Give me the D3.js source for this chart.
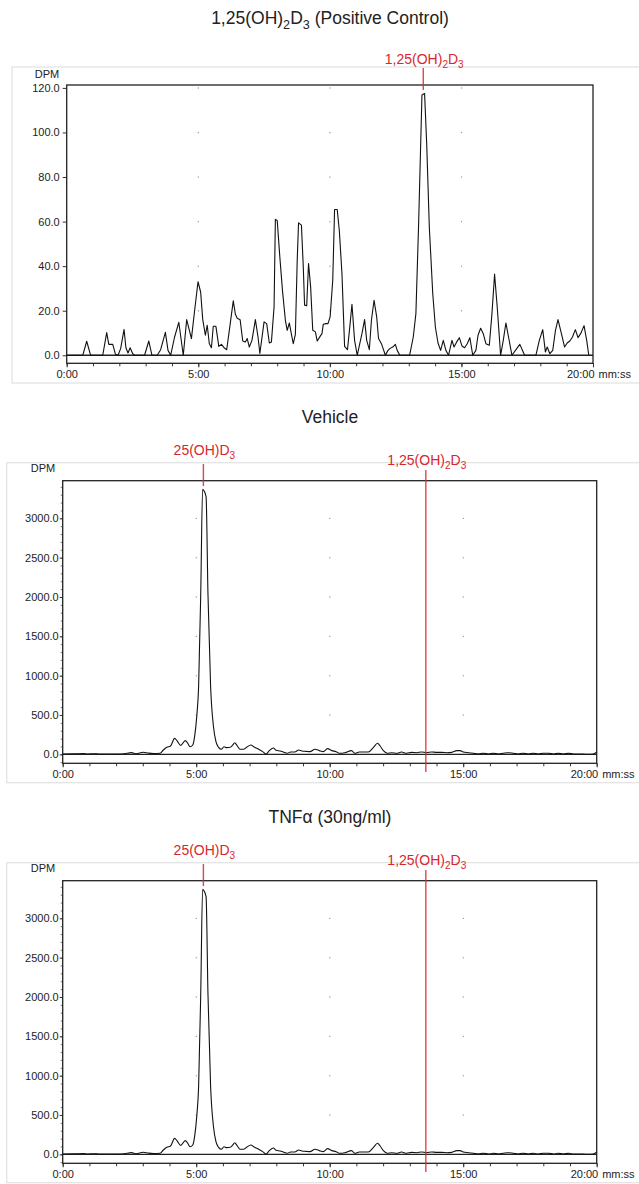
<!DOCTYPE html>
<html><head><meta charset="utf-8">
<script src="https://cdn.jsdelivr.net/npm/d3@7"></script>
<style>body{margin:0;background:#fff}svg{display:block;font-family:"Liberation Sans",Arial,sans-serif}</style>
</head><body><svg id="c" width="639" height="1184"></svg>
<script>
// ---------- data ----------
const pcTime=[0,0.61,0.76,0.91,1.37,1.52,1.6,1.75,1.85,1.95,2.05,2.18,2.25,2.33,2.41,2.51,2.58,2.96,3.12,3.24,3.44,3.57,3.75,3.85,3.95,4.10,4.26,4.43,4.56,4.74,4.86,4.99,5.09,5.17,5.27,5.34,5.42,5.5,5.57,5.67,5.78,5.88,5.98,6.08,6.18,6.33,6.41,6.48,6.59,6.69,6.79,6.86,6.94,7.04,7.17,7.27,7.34,7.5,7.6,7.7,7.78,7.88,7.93,8.0,8.1,8.2,8.31,8.38,8.46,8.54,8.61,8.69,8.76,8.81,8.92,8.99,9.04,9.12,9.19,9.27,9.35,9.45,9.52,9.63,9.70,9.75,9.85,9.93,10.01,10.11,10.18,10.28,10.36,10.46,10.56,10.67,10.77,10.84,10.94,11.04,11.22,11.32,11.40,11.50,11.58,11.68,11.78,11.85,11.96,12.11,12.21,12.29,12.39,12.49,12.56,12.66,13.03,13.17,13.27,13.37,13.5,13.6,13.68,13.78,13.91,14.01,14.11,14.21,14.31,14.41,14.51,14.64,14.72,14.82,14.92,15.02,15.12,15.22,15.32,15.43,15.55,15.63,15.73,15.83,15.93,16.06,16.16,16.26,16.36,16.49,16.59,16.69,16.79,16.92,17.10,17.22,17.33,17.40,17.83,17.96,18.09,18.19,18.26,18.36,18.47,18.57,18.67,18.80,18.92,19.02,19.12,19.22,19.33,19.43,19.53,19.66,19.76,19.84];
const pcDpm=[0,0,6.3,0,0,10.2,4.9,4.9,0.5,0,3,11.6,3.4,1,3.4,0.7,0,0,6.4,0,0,2.5,10.3,2.2,0,8.2,14.8,0,16,7.5,20,33,28.4,16,9,13.5,5.2,3.4,13,13,4,4.9,3.4,2.5,11.2,24.4,18.4,16.6,16,6.4,6,7.5,3.7,6.7,16,8.2,0.8,15,14.2,5.5,6,21.7,61,60.5,44,29,15.7,11.2,14.5,9.4,5.2,9.4,42.7,59.4,58.4,39.7,22.5,22.2,41.2,30.7,11.2,10.5,6.4,8.5,9.7,13.9,14.2,14.2,17.2,33.7,65.4,65.4,56,36.7,4,2.5,14.2,22.9,6.7,0,9.7,16,6.7,2.5,15.7,24.7,17.2,7.5,5.2,0,2.2,3.1,3.7,4.9,2.2,0,0,8.2,18.7,57.6,116.8,117.5,95,57.6,27.7,12.7,5.5,2.2,6.7,2.2,0,6.7,3.7,6,7.9,4.2,3.4,5.2,7.9,0,2.2,9,12.1,9.7,5.2,4.5,18.7,36.4,21.7,0,6.7,14.5,8.2,0,3,4.9,1.9,0,0,6.7,11.5,1.5,3.7,0.7,2.2,10.9,16,9.7,3.7,5.5,6.4,8.2,11.5,7.9,9.7,13.3,6.7,0];

const vehTime=[0,0.4,0.78,0.95,1.15,1.4,1.7,2.0,2.3,2.58,2.75,3.02,3.2,3.4,3.65,3.77,3.9,4.04,4.19,4.29,4.42,4.59,4.67,4.77,4.87,4.94,5.02,5.09,5.17,5.24,5.29,5.37,5.44,5.54,5.64,5.74,5.84,5.94,6.04,6.14,6.27,6.37,6.44,6.54,6.64,6.77,6.89,7.04,7.19,7.34,7.49,7.62,7.74,7.89,7.99,8.14,8.26,8.41,8.54,8.69,8.84,8.96,9.11,9.26,9.45,9.61,9.76,9.92,10.08,10.24,10.36,10.57,10.82,10.94,11.11,11.26,11.45,11.64,11.79,11.89,12.01,12.16,12.32,12.51,12.69,12.88,13.07,13.26,13.44,13.63,13.82,14.01,14.2,14.39,14.57,14.76,14.88,15.0,15.19,15.38,15.57,15.76,15.95,16.13,16.32,16.5,16.69,16.88,17.06,17.25,17.44,17.63,17.81,18.0,18.19,18.38,18.56,18.75,18.95,19.13,19.31,19.5,19.69,19.87,20.0];
const vehDpm=[4,6,10,4,8,3,5,3,8,22,8,26,16,10,14,55,89,106,203,169,114,174,148,97,119,225,479,860,2046,3368,3351,3275,2046,860,373,161,89,64,97,85,89,119,148,106,64,64,89,119,89,64,34,3,47,80,51,42,30,13,30,30,55,42,38,34,64,47,34,72,47,34,13,21,47,13,30,30,30,89,140,106,47,13,21,13,30,13,25,21,30,21,30,25,25,21,25,47,47,30,21,13,4,13,4,13,4,13,21,13,4,13,4,13,4,13,13,4,13,4,13,4,4,4,0,4,30];

const tnfTime=[0,0.4,0.78,0.95,1.15,1.4,1.7,2.0,2.3,2.58,2.75,3.02,3.2,3.4,3.65,3.77,3.9,4.04,4.19,4.29,4.42,4.59,4.67,4.77,4.87,4.94,5.02,5.09,5.17,5.24,5.29,5.37,5.44,5.54,5.64,5.74,5.84,5.94,6.04,6.14,6.27,6.37,6.44,6.54,6.64,6.77,6.89,7.04,7.19,7.34,7.49,7.62,7.74,7.89,7.99,8.14,8.26,8.41,8.54,8.69,8.84,8.96,9.11,9.26,9.45,9.61,9.76,9.92,10.08,10.24,10.36,10.57,10.82,10.94,11.11,11.26,11.45,11.64,11.79,11.89,12.01,12.16,12.32,12.51,12.69,12.88,13.07,13.26,13.44,13.63,13.82,14.01,14.2,14.39,14.57,14.76,14.88,15.0,15.19,15.38,15.57,15.76,15.95,16.13,16.32,16.5,16.69,16.88,17.06,17.25,17.44,17.63,17.81,18.0,18.19,18.38,18.56,18.75,18.95,19.13,19.31,19.5,19.69,19.87,20.0];
const tnfDpm=[4,6,10,4,8,3,5,3,8,22,8,26,16,10,14,55,89,106,203,169,114,174,148,97,119,225,479,860,2046,3368,3351,3275,2046,860,373,161,89,64,97,85,89,119,148,106,64,64,89,119,89,64,34,3,47,80,51,42,30,13,30,30,55,42,38,34,64,47,34,72,47,34,13,21,47,13,30,30,30,89,140,106,47,13,21,13,30,13,25,21,30,21,30,25,25,21,25,47,47,30,21,13,4,13,4,13,4,13,21,13,4,13,4,13,4,13,13,4,13,4,13,4,4,4,0,4,30];

const timeTicks=[0,5,10,15,20];
const timeTickLabels=["0:00","5:00","10:00","15:00","20:00"];
const pcYTicks=[0,20,40,60,80,100,120];
const sampleYTicks=[0,500,1000,1500,2000,2500,3000];
const titles=[
  [["1,25(OH)",0],["2",1],["D",0],["3",1],[" (Positive Control)",0]],
  [["Vehicle",0]],
  [["TNF\u03b1 (30ng/ml)",0]]
];
const lbl125=[["1,25(OH)",0],["2",1],["D",0],["3",1]];
const lbl25=[["25(OH)D",0],["3",1]];
const pcMarkers=[{t:13.55,label:lbl125}];
const sampleMarkers=[{t:5.27,label:lbl25},{t:13.6,label:lbl125}];

// ---------- drawing ----------
const svg=d3.select("#c");
const red="#d9262c";
function richText(sel,parts,size){
  parts.forEach(([s,sub],i)=>{
    const prevSub=i>0&&parts[i-1][1];
    const ts=sel.append("tspan").text(s);
    if(sub){ts.attr("font-size",size*0.72).attr("dy",size*0.28);}
    else{ts.attr("font-size",size); if(prevSub) ts.attr("dy",-size*0.28);}
  });
}

const panels=[
 {time:pcTime,dpm:pcDpm,yTicks:pcYTicks,minor:null,yDom:[-3.6,121.3],L:66.7,R:593,T:85,B:363.3,
  border:{x:12,y:67,h:316},titleY:24,title:titles[0],markers:pcMarkers,curve:d3.curveLinear,dpmY:78,dpmX:47,
  labelYs:[64],lineSpan:[[68,90]],ySize:4,yPad:3},
 {time:vehTime,dpm:vehDpm,yTicks:sampleYTicks,minor:d3.range(-100,3401,100),yDom:[-114,3478],L:62.7,R:596.7,T:480.7,B:763.3,
  border:{x:6.7,y:462.7,h:320},titleY:423,title:titles[1],markers:sampleMarkers,curve:d3.curveMonotoneX,dpmY:472,dpmX:43,
  labelYs:[455,465],lineSpan:[[464,486],[470,772]],ySize:3,yPad:1},
 {time:tnfTime,dpm:tnfDpm,yTicks:sampleYTicks,minor:d3.range(-100,3401,100),yDom:[-114,3478],L:62.7,R:596.7,T:880.7,B:1163.3,
  border:{x:6.7,y:862.7,h:320},titleY:823,title:titles[2],markers:sampleMarkers,curve:d3.curveMonotoneX,dpmY:872,dpmX:43,
  labelYs:[855,865],lineSpan:[[864,886],[870,1172]],ySize:3,yPad:1}
];

panels.forEach(p=>{
  const g=svg.append("g");
  const x=d3.scaleLinear().domain([0,20]).range([p.L,p.R]);
  const y=d3.scaleLinear().domain(p.yDom).range([p.B,p.T]);
  // outer border
  g.append("rect").attr("x",p.border.x).attr("y",p.border.y).attr("width",700).attr("height",p.border.h)
    .attr("fill","none").attr("stroke","#e2e2e2").attr("stroke-width",1.2);
  // title
  const tt=g.append("text").attr("x",330).attr("y",p.titleY).attr("text-anchor","middle").attr("fill","#222");
  richText(tt,p.title,17.5);
  // grid dots
  [5,10,15].forEach(t=>p.yTicks.filter(v=>v>0).forEach(v=>{
    g.append("rect").attr("x",x(t)-0.5).attr("y",y(v)-0.5).attr("width",1.2).attr("height",1.2).attr("fill","#999");
  }));
  // minor y ticks
  if(p.minor){
    const ma=g.append("g").attr("transform",`translate(${p.L},0)`)
      .call(d3.axisLeft(y).tickValues(p.minor).tickSize(2).tickFormat(""));
    ma.select(".domain").remove();
    ma.selectAll("line").attr("stroke","#555").attr("stroke-width",0.8);
  }
  // y axis
  const ya=g.append("g").attr("transform",`translate(${p.L},0)`)
    .call(d3.axisLeft(y).tickValues(p.yTicks).tickSize(p.ySize).tickPadding(p.yPad).tickFormat(d3.format(".1f")));
  ya.select(".domain").remove();
  ya.selectAll("text").attr("font-size",11).attr("fill","#222").attr("font-family","Liberation Sans, Arial, sans-serif");
  ya.selectAll("line").attr("stroke","#333");
  // x axis minor
  const xm=g.append("g").attr("transform",`translate(0,${p.B})`)
    .call(d3.axisBottom(x).tickValues(d3.range(0,21,1)).tickSize(3).tickFormat(""));
  xm.select(".domain").remove(); xm.selectAll("line").attr("stroke","#333");
  // x axis major
  const xa=g.append("g").attr("transform",`translate(0,${p.B})`)
    .call(d3.axisBottom(x).tickValues(timeTicks).tickSize(4).tickPadding(3).tickFormat((d,i)=>timeTickLabels[i]));
  xa.select(".domain").remove();
  xa.selectAll("line").attr("stroke","#333");
  xa.selectAll("text").attr("font-size",11).attr("fill","#222").attr("font-family","Liberation Sans, Arial, sans-serif");
  const last=xa.selectAll(".tick").filter(d=>d===20);
  last.select("text").attr("text-anchor","end").attr("dx",1);
  last.append("text").attr("x",5).attr("y",7).attr("dy","0.71em").attr("text-anchor","start")
    .attr("fill","#222").attr("font-size",11).text("mm:ss");
  // frame
  g.append("rect").attr("x",p.L).attr("y",p.T).attr("width",p.R-p.L).attr("height",p.B-p.T)
    .attr("fill","none").attr("stroke","#222").attr("stroke-width",1.3);
  // DPM
  g.append("text").attr("x",p.dpmX).attr("y",p.dpmY).attr("text-anchor","middle").attr("font-size",11)
    .attr("fill","#222").text("DPM");
  // zero line
  g.append("line").attr("x1",p.L).attr("x2",p.R).attr("y1",y(0)).attr("y2",y(0)).attr("stroke","#222").attr("stroke-width",1.4);
  // trace
  const pts=p.time.map((t,i)=>[t,p.dpm[i]]);
  g.append("path").datum(pts).attr("fill","none").attr("stroke","#111").attr("stroke-width",1.1)
    .attr("stroke-linejoin","round")
    .attr("d",d3.line().x(d=>x(d[0])).y(d=>y(d[1])).curve(p.curve));
  // markers
  p.markers.forEach((m,i)=>{
    const [y1,y2]=p.lineSpan[i];
    g.append("line").attr("x1",x(m.t)).attr("x2",x(m.t)).attr("y1",y1).attr("y2",y2)
      .attr("stroke",red).attr("stroke-opacity",0.85).attr("stroke-width",1.4);
    const lt=g.append("text").attr("x",x(m.t)+1).attr("y",p.labelYs[i]).attr("text-anchor","middle").attr("fill",red);
    richText(lt,m.label,14);
  });
});
</script></body></html>
